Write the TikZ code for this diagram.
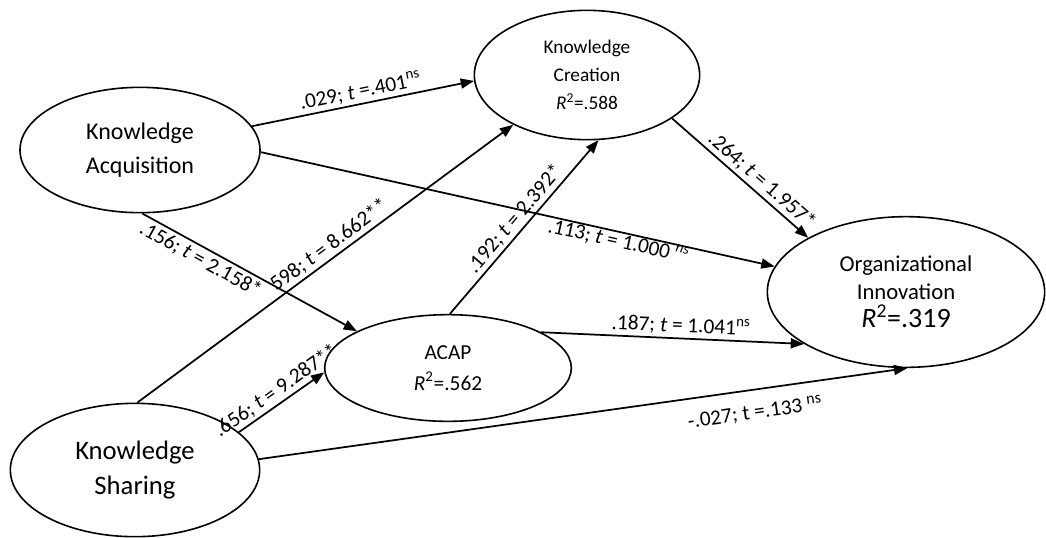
\documentclass[tikz,border=0pt]{standalone}
\usepackage{fontspec}
\setmainfont{Carlito}
\usetikzlibrary{arrows.meta,shapes.geometric}
\begin{document}
\begin{tikzpicture}[x=0.75pt,y=-0.75pt,
    every node/.append style={align=center},
    construct/.style={draw,ellipse,line width=1.2pt,inner sep=0pt},
    link/.style={line width=1.3pt,-{Triangle[length=10pt,width=7.5pt]}},
    coef/.style={sloped,font=\fontsize{16}{18}\selectfont,inner sep=2pt}]
    \useasboundingbox (0,0) rectangle (1046,537);
    % constructs
    \node[construct,minimum width=180pt,minimum height=94pt,
        font=\fontsize{18}{26}\selectfont] (ka) at (140,150) {Knowledge\\Acquisition};
    \node[construct,minimum width=169pt,minimum height=97pt,
        font=\fontsize{14.5}{21}\selectfont] (kc) at (587,75) {Knowledge\\Creation\\\textit{R}\textsuperscript{2}=.588};
    \node[construct,minimum width=187pt,minimum height=100pt,
        font=\fontsize{20}{26}\selectfont] (ks) at (135,470) {Knowledge\\Sharing};
    \node[construct,minimum width=185pt,minimum height=80pt,
        font=\fontsize{16}{23}\selectfont] (acap) at (448,368) {ACAP\\\textit{R}\textsuperscript{2}=.562};
    \node[construct,minimum width=208pt,minimum height=113pt,
        font=\fontsize{17}{21}\selectfont] (oi) at (906,292)
        {Organizational\\Innovation\\{\fontsize{21}{22}\selectfont\textit{R}\textsuperscript{2}=.319}};
    % paths
    \draw[link] (ka.12) -- node[coef,above,pos=.5] {.029; \textit{t} =.401\textsuperscript{ns}} (kc.183);
    \draw[link] (ka.-1) -- node[coef,below=-0.5pt,pos=.7,inner sep=0pt] {.113; \textit{t} = 1.000 \textsuperscript{\textit{ns}}} (oi.169);
    \draw[link] (ka.-88) -- node[coef,below,pos=.3] {.156; \textit{t} = 2.158*} (acap.158);
    \draw[link] (ks.88) -- node[coef,above,pos=.53] {598; \textit{t} = 8.662**} (kc.214);
    \draw[link] (ks.20) -- node[coef,above,pos=.52] {.656; \textit{t} = 9.287**} (acap.182);
    \draw[link] (ks.5) -- node[coef,below=8pt,pos=.76] {-.027; t =.133 \raisebox{.7ex}{\fontsize{12}{12}\selectfont ns}} (oi.-89);
    \draw[link] (acap.88) -- node[coef,above,pos=.5] {.192; \textit{t} = 2.392*} (kc.-80);
    \draw[link] (acap.21) -- node[coef,above,pos=.53] {.187; \textit{t} = 1.041\textsuperscript{ns}} (oi.207);
    \draw[link] (kc.-27) -- node[coef,above,pos=.6] {.264; \textit{t} = 1.957*} (oi.151);
\end{tikzpicture}
\end{document}
